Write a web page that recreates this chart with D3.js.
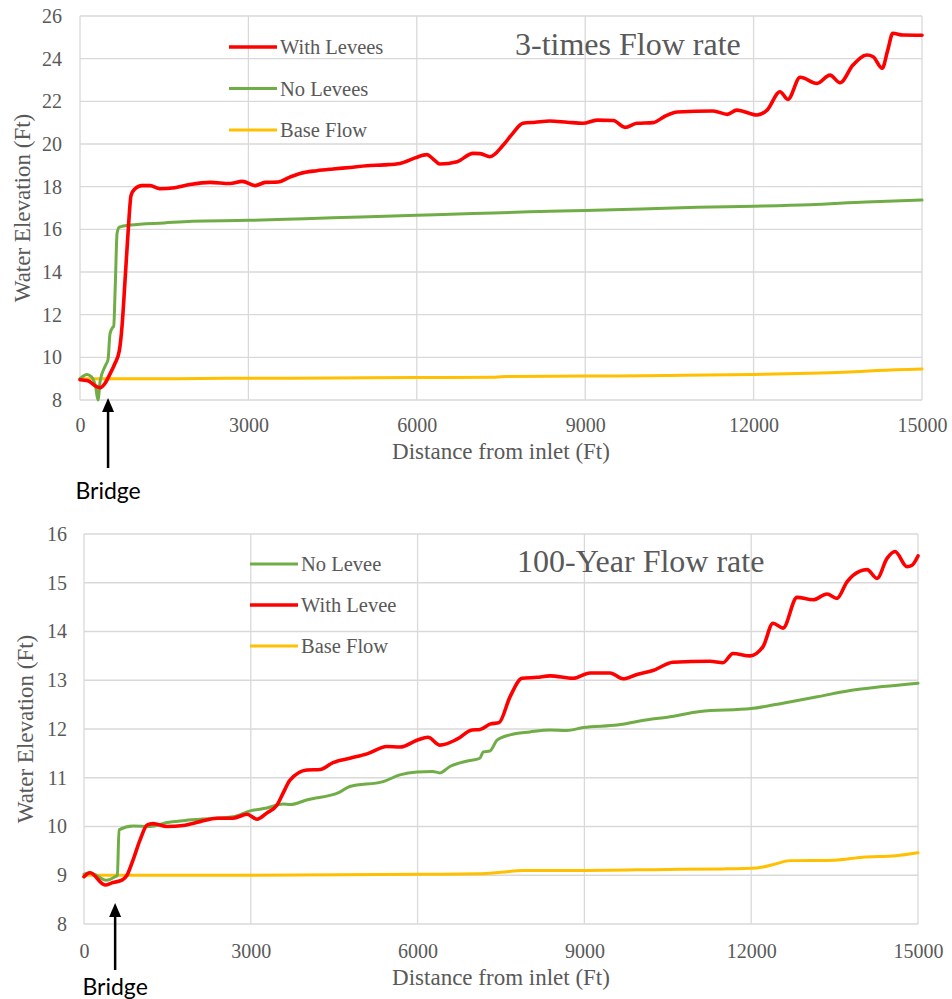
<!DOCTYPE html>
<html>
<head>
<meta charset="utf-8">
<script src="https://cdn.jsdelivr.net/npm/d3@7"></script>
<style>
  html, body { margin: 0; padding: 0; background: #fff; }
  svg { display: block; }
</style>
</head>
<body>
<svg id="chart" width="952" height="999"></svg>
<script>
// ---- Data: [distance from inlet (ft), water elevation (ft)] ----
const xTicks = [0, 3000, 6000, 9000, 12000, 15000];
const topYTicks = [8, 10, 12, 14, 16, 18, 20, 22, 24, 26];
const bottomYTicks = [8, 9, 10, 11, 12, 13, 14, 15, 16];

const topWithLevees = [[0,8.95],[140,8.9],[300,8.62],[360,8.58],[450,8.8],[530,9.2],[620,9.7],[700,10.3],[750,11.5],[800,13.5],[860,16.0],[910,17.6],[980,17.9],[1100,18.05],[1250,18.05],[1420,17.9],[1690,17.95],[1960,18.1],[2320,18.2],[2670,18.15],[2890,18.25],[3120,18.05],[3300,18.2],[3530,18.22],[3740,18.45],[3920,18.62],[4220,18.75],[4510,18.83],[4810,18.9],[5110,18.98],[5420,19.02],[5700,19.09],[5970,19.35],[6180,19.5],[6290,19.3],[6410,19.06],[6720,19.17],[7000,19.56],[7130,19.55],[7300,19.4],[7540,19.95],[7710,20.5],[7890,20.97],[8110,21.02],[8370,21.08],[8680,21.02],[8960,20.97],[9210,21.12],[9500,21.1],[9710,20.78],[9920,20.97],[10210,21.0],[10420,21.3],[10640,21.5],[11280,21.55],[11530,21.39],[11700,21.59],[12060,21.36],[12240,21.59],[12470,22.45],[12610,22.09],[12830,23.13],[13130,22.84],[13360,23.23],[13540,22.87],[13770,23.7],[14020,24.17],[14130,24.09],[14290,23.55],[14390,24.4],[14480,25.19],[14660,25.11],[15000,25.1]];
const topNoLevees = [[0,9.0],[124,9.2],[200,9.1],[280,8.6],[320,8.0],[360,8.9],[450,9.6],[500,9.9],[534,11.1],[580,11.4],[600,11.45],[630,13.5],[660,15.8],[700,16.1],[900,16.2],[1500,16.3],[2000,16.38],[3000,16.42],[4000,16.5],[5000,16.58],[6000,16.66],[7000,16.74],[8000,16.82],[9000,16.88],[10000,16.95],[11000,17.03],[12000,17.08],[13000,17.15],[14000,17.28],[15000,17.37]];
const topBaseFlow = [[0,9.0],[1500,9.0],[3000,9.02],[4500,9.03],[6000,9.05],[7400,9.07],[7600,9.1],[9000,9.12],[10500,9.15],[12000,9.2],[13000,9.25],[13600,9.3],[14200,9.38],[15000,9.45]];

const bottomNoLevee = [[0,9.02],[108,9.05],[400,8.9],[560,8.97],[600,9.0],[630,9.93],[880,10.01],[1190,10.0],[1490,10.08],[1780,10.12],[2090,10.15],[2680,10.2],[2990,10.32],[3290,10.38],[3580,10.46],[3710,10.45],[4020,10.55],[4590,10.7],[4780,10.82],[5380,10.92],[5680,11.06],[5990,11.12],[6270,11.13],[6400,11.1],[6580,11.23],[6880,11.34],[7120,11.4],[7180,11.53],[7300,11.55],[7430,11.77],[7660,11.88],[8020,11.94],[8380,11.98],[8680,11.97],[8980,12.03],[9590,12.08],[10190,12.2],[10490,12.24],[11080,12.36],[12000,12.42],[12570,12.53],[13190,12.66],[13780,12.79],[14370,12.87],[15000,12.94]];
const bottomWithLevee = [[0,8.97],[108,9.05],[378,8.8],[522,8.85],[683,8.9],[773,9.0],[881,9.31],[1007,9.72],[1133,10.03],[1241,10.06],[1493,10.0],[1781,10.02],[2086,10.1],[2392,10.17],[2680,10.17],[2932,10.25],[3112,10.15],[3291,10.28],[3471,10.44],[3579,10.68],[3705,10.95],[4011,11.16],[4245,11.17],[4479,11.31],[4784,11.4],[5090,11.49],[5450,11.64],[5684,11.63],[5990,11.77],[6187,11.83],[6403,11.67],[6709,11.79],[6979,11.98],[7122,11.99],[7302,12.1],[7464,12.13],[7662,12.66],[7878,13.04],[8148,13.06],[8381,13.09],[8795,13.04],[9101,13.15],[9461,13.15],[9694,13.03],[9946,13.12],[10234,13.2],[10594,13.37],[11259,13.39],[11493,13.36],[11673,13.55],[11979,13.5],[12213,13.69],[12392,14.17],[12572,14.07],[12824,14.7],[13112,14.65],[13364,14.77],[13543,14.68],[13723,15.02],[13957,15.24],[14083,15.27],[14263,15.09],[14443,15.5],[14587,15.64],[14802,15.33],[14892,15.36],[15000,15.55]];
const bottomBaseFlow = [[0,9.0],[3000,9.0],[6000,9.02],[7100,9.03],[7500,9.06],[7900,9.1],[9000,9.1],[10500,9.12],[11500,9.13],[12100,9.15],[12400,9.22],[12700,9.3],[13500,9.31],[14000,9.37],[14600,9.4],[15000,9.46]];

const RED = "#ff0000", GREEN = "#70ad47", GOLD = "#ffc000";
const TEXT = "#595959", GRID = "#d9d9d9";
const SERIF = "'Liberation Serif', 'Times New Roman', serif";
const SANS = "Lato, 'Open Sans', sans-serif";

const svg = d3.select("#chart");

function drawPanel(cfg) {
  const x = d3.scaleLinear().domain([0, 15000]).range([cfg.left, cfg.right]);
  const y = d3.scaleLinear().domain(cfg.yDomain).range([cfg.bottom, cfg.top]);
  const g = svg.append("g");

  // gridlines
  g.append("g").selectAll("line").data(cfg.yTicks).join("line")
    .attr("x1", cfg.left).attr("x2", cfg.right)
    .attr("y1", d => y(d)).attr("y2", d => y(d))
    .attr("stroke", GRID).attr("stroke-width", 1.3);
  g.append("g").selectAll("line").data(xTicks).join("line")
    .attr("x1", d => x(d)).attr("x2", d => x(d))
    .attr("y1", cfg.top).attr("y2", cfg.bottom)
    .attr("stroke", GRID).attr("stroke-width", 1.3);

  // axes (labels only)
  const yAxis = g.append("g").attr("transform", `translate(${cfg.left},0)`)
    .call(d3.axisLeft(y).tickValues(cfg.yTicks).tickSize(0).tickPadding(cfg.yPad));
  const xAxis = g.append("g").attr("transform", `translate(0,${cfg.bottom})`)
    .call(d3.axisBottom(x).tickValues(xTicks).tickSize(0).tickPadding(cfg.xPad).tickFormat(d3.format("d")));
  [yAxis, xAxis].forEach(a => {
    a.select(".domain").remove();
    a.selectAll("text").attr("fill", TEXT).style("font-family", SERIF).style("font-size", "20px");
  });

  // axis titles
  g.append("text")
    .attr("transform", `translate(${cfg.yTitleX},${(cfg.top + cfg.bottom) / 2}) rotate(-90)`)
    .attr("text-anchor", "middle").attr("dominant-baseline", "central")
    .attr("fill", TEXT).style("font-family", SERIF).style("font-size", "23px")
    .text("Water Elevation (Ft)");
  g.append("text")
    .attr("x", (cfg.left + cfg.right) / 2).attr("y", cfg.xTitleY)
    .attr("text-anchor", "middle")
    .attr("fill", TEXT).style("font-family", SERIF).style("font-size", "23px")
    .text("Distance from inlet (Ft)");

  // series
  const line = d3.line().x(d => x(d[0])).y(d => y(d[1])).curve(d3.curveMonotoneX);
  cfg.series.forEach(s => {
    g.append("path").datum(s.data)
      .attr("fill", "none").attr("stroke", s.color).attr("stroke-width", s.width)
      .attr("stroke-linejoin", "round").attr("stroke-linecap", "round")
      .attr("d", line);
  });

  // legend
  cfg.legendOrder.forEach((s, i) => {
    const ly = cfg.legendY + i * cfg.legendStep;
    g.append("line")
      .attr("x1", cfg.legendX).attr("x2", cfg.legendX + 48)
      .attr("y1", ly).attr("y2", ly)
      .attr("stroke", s.color).attr("stroke-width", s.width);
    g.append("text")
      .attr("x", cfg.legendX + 51).attr("y", ly).attr("dy", "0.35em")
      .attr("fill", TEXT).style("font-family", SERIF).style("font-size", "20.5px")
      .text(s.name);
  });

  // panel title
  g.append("text")
    .attr("x", cfg.titleX).attr("y", cfg.titleY)
    .attr("fill", TEXT).style("font-family", SERIF).style("font-size", "32px")
    .text(cfg.title);

  // bridge marker
  const bx = x(cfg.bridgeAt);
  g.append("line")
    .attr("x1", bx).attr("x2", bx)
    .attr("y1", cfg.arrowBottom).attr("y2", cfg.arrowTip + 12)
    .attr("stroke", "#000").attr("stroke-width", 2.5);
  g.append("path")
    .attr("d", `M${bx},${cfg.arrowTip} L${bx - 6},${cfg.arrowTip + 14} L${bx + 6},${cfg.arrowTip + 14} Z`)
    .attr("fill", "#000");
  g.append("text")
    .attr("x", bx).attr("y", cfg.bridgeTextY)
    .attr("text-anchor", "middle")
    .attr("fill", "#000").style("font-family", SANS).style("font-size", "23px")
    .text("Bridge");
}

const sTopRed = { name: "With Levees", data: topWithLevees, color: RED, width: 3.6 };
const sTopGreen = { name: "No Levees", data: topNoLevees, color: GREEN, width: 3 };
const sTopGold = { name: "Base Flow", data: topBaseFlow, color: GOLD, width: 3 };

drawPanel({
  left: 80, right: 922, top: 16, bottom: 400,
  yDomain: [8, 26], yTicks: topYTicks, yPad: 18, xPad: 18,
  yTitleX: 22, xTitleY: 459,
  series: [sTopGold, sTopGreen, sTopRed],
  legendOrder: [sTopRed, sTopGreen, sTopGold],
  legendX: 229, legendY: 47, legendStep: 41.5,
  title: "3-times Flow rate", titleX: 515, titleY: 55,
  bridgeAt: 500, arrowTip: 398, arrowBottom: 468, bridgeTextY: 499
});

const sBotGreen = { name: "No Levee", data: bottomNoLevee, color: GREEN, width: 3 };
const sBotRed = { name: "With Levee", data: bottomWithLevee, color: RED, width: 3.6 };
const sBotGold = { name: "Base Flow", data: bottomBaseFlow, color: GOLD, width: 3 };

drawPanel({
  left: 84, right: 918, top: 534, bottom: 924,
  yDomain: [8, 16], yTicks: bottomYTicks, yPad: 17, xPad: 20,
  yTitleX: 25, xTitleY: 985,
  series: [sBotGold, sBotGreen, sBotRed],
  legendOrder: [sBotGreen, sBotRed, sBotGold],
  legendX: 250, legendY: 564, legendStep: 41,
  title: "100-Year Flow rate", titleX: 517, titleY: 572,
  bridgeAt: 560, arrowTip: 903, arrowBottom: 970, bridgeTextY: 995
});
</script>
</body>
</html>
